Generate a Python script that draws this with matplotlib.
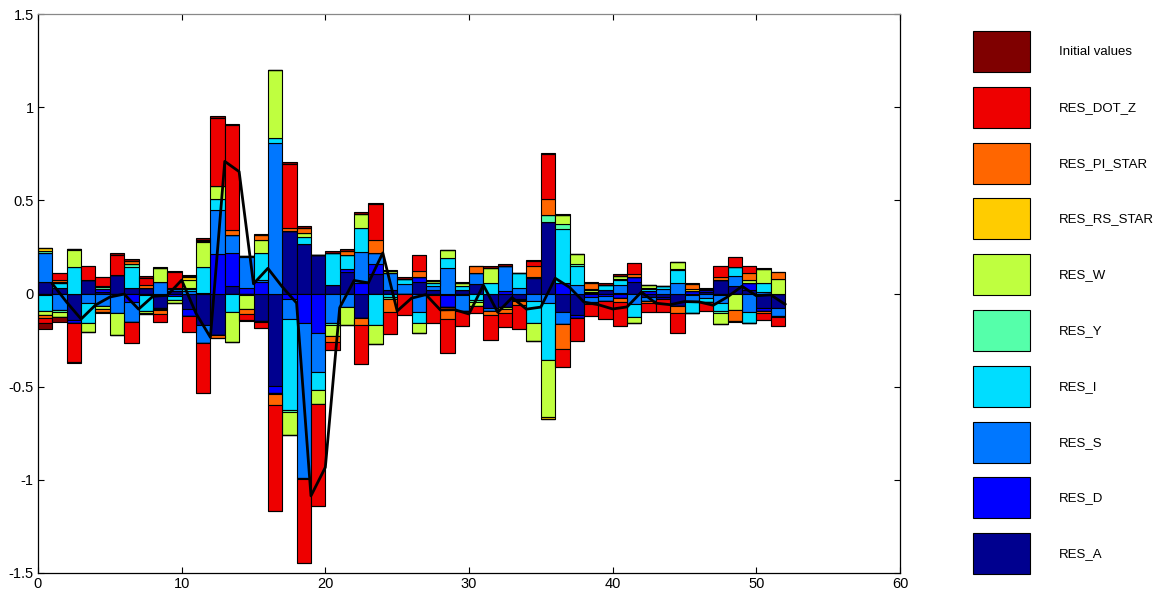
import matplotlib
matplotlib.use('Agg')
import matplotlib.pyplot as plt
import numpy as np
from matplotlib.patches import Rectangle

plt.rcParams['font.family'] = ['Liberation Sans', 'DejaVu Sans']

# shock names, in stacking order (closest to zero first)
names = ['RES_A', 'RES_D', 'RES_S', 'RES_I', 'RES_Y', 'RES_W',
         'RES_RS_STAR', 'RES_PI_STAR', 'RES_DOT_Z', 'Initial values']
colors = ['#00008f', '#0000ff', '#0077ff', '#00ddff', '#55ffaa',
          '#bfff3f', '#ffcc00', '#ff6600', '#ee0000', '#7f0000']

# contributions per period, one list per period: A, D, S, I, Y, W, RS, PI, DOT_Z, Init
contrib = np.array([
    [0.063, -0.009, 0.152, -0.084, 0.012, -0.023, 0.018, -0.014, -0.027, -0.036],
    [0.027, 0.0, -0.090, 0.030, -0.010, -0.025, 0.005, 0.010, 0.036, -0.030],
    [-0.143, -0.018, 0.0, 0.140, 0.0, 0.095, 0.003, 0.0, -0.205, -0.009],
    [0.072, 0.0, -0.050, -0.110, 0.0, -0.045, 0.0, 0.0, 0.075, -0.004],
    [0.010, 0.015, -0.065, 0.0, 0.010, -0.018, 0.005, -0.014, 0.047, -0.009],
    [0.098, 0.0, -0.104, 0.0, 0.0, -0.118, 0.0, 0.0, 0.107, 0.014],
    [0.027, -0.045, -0.107, 0.116, 0.014, 0.0, 0.0, 0.018, -0.116, 0.009],
    [0.032, -0.010, 0.0, -0.085, 0.0, -0.007, -0.007, 0.012, 0.040, 0.010],
    [-0.080, 0.0, 0.063, -0.005, -0.005, 0.075, 0.0, -0.018, -0.045, 0.005],
    [0.012, -0.015, 0.010, -0.018, 0.005, -0.017, 0.0, 0.0, 0.089, 0.006],
    [-0.082, -0.040, 0.012, 0.010, 0.005, 0.045, 0.015, 0.005, -0.086, 0.009],
    [-0.170, 0.004, -0.097, 0.140, 0.0, 0.135, 0.005, 0.005, -0.265, 0.008],
    [-0.223, 0.214, 0.236, 0.059, 0.0, 0.066, 0.0, -0.018, 0.368, 0.007],
    [0.040, 0.175, 0.098, -0.098, 0.0, -0.160, 0.0, 0.030, 0.560, 0.009],
    [0.0, 0.028, 0.167, 0.005, -0.008, -0.075, 0.0, -0.025, -0.035, -0.005],
    [-0.146, 0.060, 0.011, 0.148, -0.008, 0.070, 0.0, 0.023, -0.033, 0.010],
    [-0.496, -0.039, 0.809, 0.028, -0.006, 0.361, 0.0, -0.057, -0.568, 0.004],
    [0.336, -0.030, -0.107, -0.487, -0.014, -0.120, 0.0, 0.018, 0.340, 0.013],
    [0.263, -0.156, -0.835, 0.041, -0.005, 0.021, 0.0, 0.028, -0.450, 0.007],
    [0.206, -0.210, -0.209, -0.098, 0.0, -0.075, 0.0, 0.0, -0.547, 0.0],
    [0.045, 0.0, -0.160, 0.172, -0.008, -0.060, 0.0, -0.030, -0.045, 0.010],
    [0.116, 0.018, -0.070, 0.071, 0.0, -0.098, 0.0, 0.023, 0.0, 0.010],
    [-0.134, 0.054, 0.170, 0.125, 0.0, 0.077, 0.0, -0.036, -0.208, 0.009],
    [0.107, 0.054, 0.054, -0.170, 0.0, -0.100, 0.0, 0.072, 0.195, 0.006],
    [0.018, 0.0, 0.090, -0.020, -0.010, 0.014, 0.0, -0.070, -0.120, 0.004],
    [-0.005, 0.0, 0.050, 0.030, 0.0, 0.0, 0.0, 0.0, -0.110, 0.010],
    [0.063, 0.023, -0.100, -0.060, 0.0, -0.054, 0.0, 0.036, 0.086, 0.0],
    [0.020, -0.010, 0.020, 0.015, 0.0, 0.012, 0.0, 0.0, -0.150, 0.005],
    [-0.010, -0.065, 0.139, 0.054, 0.0, 0.040, 0.0, -0.060, -0.185, 0.0],
    [0.020, -0.010, -0.085, 0.020, 0.0, 0.018, 0.0, 0.0, -0.079, 0.006],
    [0.050, 0.0, 0.060, -0.035, -0.010, -0.020, 0.0, 0.035, -0.040, 0.005],
    [-0.080, 0.0, -0.014, 0.055, 0.0, 0.084, 0.0, -0.020, -0.134, 0.008],
    [-0.070, 0.015, 0.135, 0.0, 0.0, -0.015, 0.0, -0.020, -0.075, 0.008],
    [-0.030, -0.005, 0.030, 0.078, 0.0, -0.007, 0.0, -0.020, -0.130, 0.0],
    [0.082, 0.0, -0.040, -0.116, 0.008, -0.098, 0.0, 0.055, 0.030, 0.006],
    [0.384, 0.0, -0.050, -0.307, 0.039, -0.304, -0.010, 0.084, 0.241, 0.005],
    [-0.100, 0.057, -0.066, 0.288, 0.027, 0.048, 0.0, -0.130, -0.097, 0.006],
    [-0.113, -0.018, 0.048, 0.100, 0.010, 0.052, 0.0, 0.0, -0.125, 0.0],
    [0.005, -0.020, -0.025, -0.010, 0.005, 0.010, 0.005, 0.032, -0.065, 0.003],
    [0.020, -0.015, -0.025, 0.025, 0.0, 0.0, 0.0, 0.0, -0.098, 0.010],
    [0.005, -0.026, 0.040, 0.028, 0.005, 0.018, 0.0, -0.018, -0.130, 0.006],
    [0.063, 0.027, -0.054, -0.071, 0.0, -0.032, 0.0, 0.012, 0.063, 0.0],
    [-0.020, 0.015, -0.020, 0.010, 0.005, 0.015, 0.0, -0.012, -0.045, 0.0],
    [-0.020, -0.010, 0.025, 0.015, 0.0, 0.0, 0.0, 0.0, -0.070, 0.0],
    [-0.066, 0.0, 0.054, 0.071, 0.009, 0.036, 0.0, -0.041, -0.107, 0.001],
    [-0.010, 0.015, -0.035, -0.058, 0.0, 0.0, 0.010, 0.025, 0.0, 0.008],
    [0.010, 0.008, -0.025, -0.020, 0.0, 0.006, 0.0, 0.0, -0.050, 0.008],
    [0.071, -0.010, -0.040, -0.045, -0.010, -0.060, 0.0, 0.018, 0.057, 0.001],
    [0.040, 0.0, 0.054, 0.050, 0.0, -0.090, 0.0, -0.055, 0.050, -0.010],
    [0.020, 0.036, -0.100, -0.059, 0.0, 0.014, 0.0, 0.040, 0.037, 0.0],
    [-0.080, -0.016, 0.010, 0.045, 0.0, 0.075, 0.0, -0.010, -0.036, 0.005],
    [-0.080, 0.0, -0.040, 0.0, -0.005, 0.080, 0.0, 0.036, -0.050, 0.001],
])
periods = np.arange(1, len(contrib) + 1)
total = contrib.sum(axis=1)

fig = plt.figure(figsize=(11.68, 5.94), dpi=100)
ax = fig.add_axes([38 / 1168, 1 - 573 / 594, 862 / 1168, 559 / 594])

# stacked bars: positive parts upward, negative parts downward
pos_base = np.zeros(len(periods))
neg_base = np.zeros(len(periods))
for j in range(len(names)):
    v = contrib[:, j]
    pv = np.where(v > 0, v, 0)
    nv = np.where(v < 0, v, 0)
    ax.bar(periods - 1, pv, width=1, bottom=pos_base, align='edge',
           color=colors[j], edgecolor='black', linewidth=0.8)
    ax.bar(periods - 1, nv, width=1, bottom=neg_base, align='edge',
           color=colors[j], edgecolor='black', linewidth=0.8)
    pos_base += pv
    neg_base += nv

ax.plot(periods, total, color='black', linewidth=2)

ax.set_xlim(0, 60)
ax.set_ylim(-1.5, 1.5)
ax.set_xticks(np.arange(0, 61, 10))
ax.set_yticks([-1.5, -1, -0.5, 0, 0.5, 1, 1.5])
ax.set_yticklabels(['-1.5', '-1', '-0.5', '0', '0.5', '1', '1.5'])
ax.tick_params(direction='in', length=4, labelsize=10.5, top=True, right=True, pad=3)
for s in ax.spines.values():
    s.set_linewidth(0.9)
ax.spines['top'].set_color('#888888')

# legend drawn as its own axes
lax = fig.add_axes([0, 0, 1, 1])
lax.set_xlim(0, 1168)
lax.set_ylim(594, 0)
lax.axis('off')
for k, name in enumerate(names[::-1]):
    y0 = 31 + k * 55.8
    lax.add_patch(Rectangle((973, y0), 57, 41, facecolor=colors[::-1][k],
                            edgecolor='black', linewidth=0.8))
    lax.text(1059, y0 + 21, name, fontsize=9.5, va='center', ha='left')

fig.savefig('out.png', dpi=100)
